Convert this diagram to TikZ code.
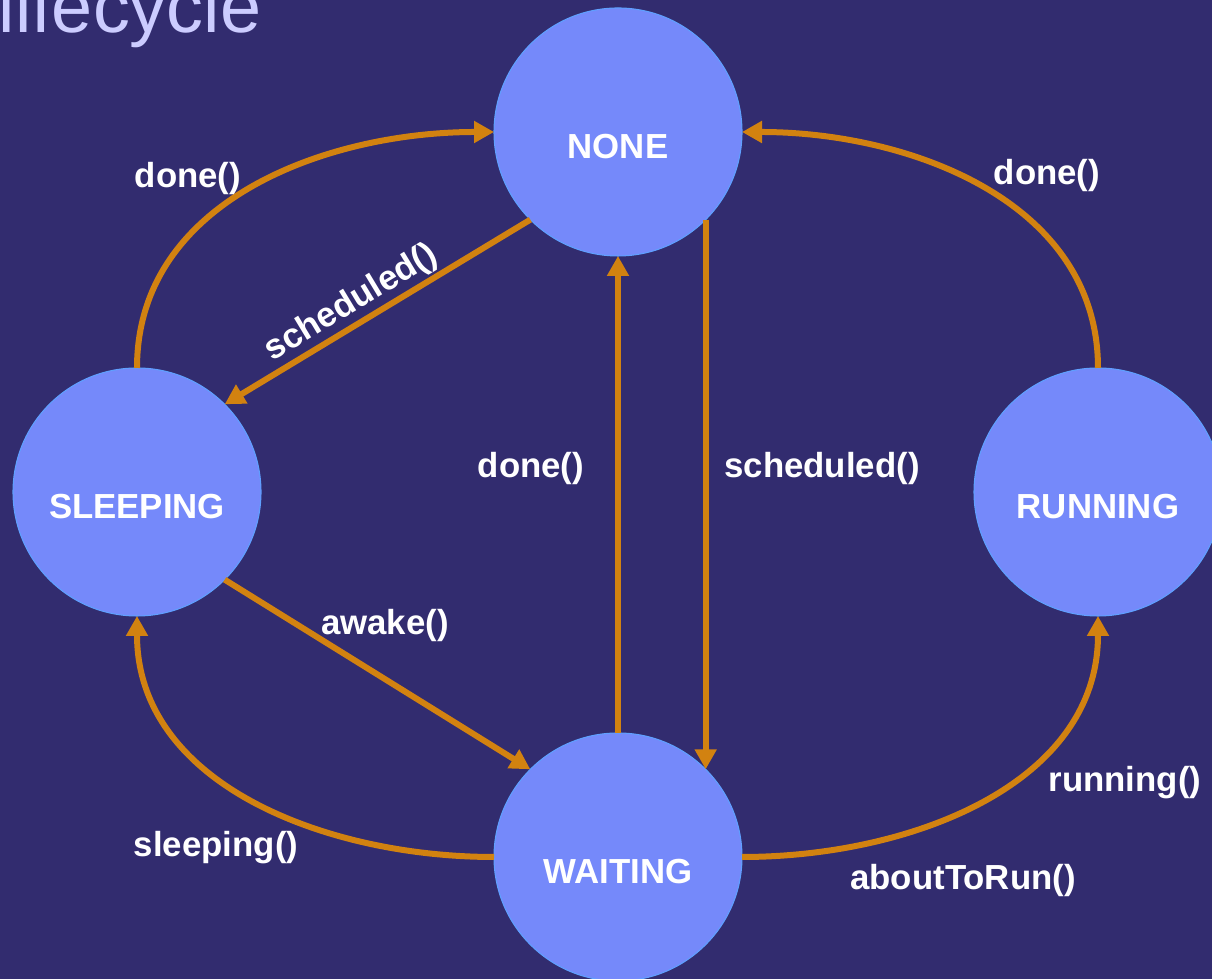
\documentclass[tikz,border=0pt]{standalone}
\usepackage{fontspec}
\setmainfont{Liberation Sans}
\usetikzlibrary{arrows.meta}

\definecolor{coloreSfondo}{RGB}{50,44,111}
\definecolor{coloreStato}{RGB}{117,137,250}
\definecolor{coloreBordo}{RGB}{95,160,255}
\definecolor{coloreFreccia}{RGB}{210,130,16}
\definecolor{coloreTitolo}{RGB}{204,204,255}

\begin{document}
\begin{tikzpicture}[
		stato/.style={circle, fill=coloreStato, draw=coloreBordo, line width=0.3pt,
			minimum size=2.48cm, inner sep=0pt, outer sep=0pt, text=white,
			font=\fontsize{9.9pt}{12pt}\selectfont\bfseries,
			text height=0.53cm, text depth=0pt},
		etich/.style={text=white, font=\fontsize{9.9pt}{12pt}\selectfont\bfseries,
			anchor=base, inner sep=0pt},
		freccia/.style={draw=coloreFreccia, line width=0.06cm,
			-{Triangle[length=0.2cm,width=0.21cm]}}
	]
	\useasboundingbox (0,0) rectangle (12.12,9.79);
	\fill[coloreSfondo] (0,0) rectangle (12.12,9.79);

	% Titolo
	\node[anchor=base west, inner sep=0pt, text=coloreTitolo,
		font=\fontsize{21pt}{24pt}\selectfont] (titolo) at (-0.02,9.46) {lifecycle};

	% Definisci gli stati
	\node[stato] (none) at (6.18,8.47) {NONE};
	\node[stato] (sleeping) at (1.37,4.87) {SLEEPING};
	\node[stato] (running) at (10.98,4.87) {RUNNING};
	\node[stato] (waiting) at (6.18,1.22) {WAITING};

	% Collega gli stati
	\draw[freccia] (sleeping.north) to[out=90,in=180] (none.west);
	\draw[freccia] (running.north) to[out=90,in=0] (none.east);
	\draw[freccia] (none.225) -- node[etich, anchor=south, sloped, pos=0.55, inner sep=0.5pt] (lsched) {scheduled()} (sleeping.45);
	\draw[freccia] (sleeping.-45) -- (waiting.135);
	\draw[freccia] (waiting.north) -- (none.south);
	\draw[freccia] (none.-45) -- (waiting.45);
	\draw[freccia] (waiting.west) to[out=180,in=-90] (sleeping.south);
	\draw[freccia] (waiting.east) to[out=0,in=-90] (running.south);

	% Etichette
	\node[etich] (ldone1) at (1.88,7.91) {done()};
	\node[etich] (ldone2) at (10.47,7.94) {done()};
	\node[etich] (ldone3) at (5.31,5.01) {done()};
	\node[etich] (lsched2) at (8.22,5.01) {scheduled()};
	\node[etich] (lawake) at (3.85,3.44) {awake()};
	\node[etich] (lsleep) at (2.16,1.22) {sleeping()};
	\node[etich] (lrun) at (11.25,1.87) {running()};
	\node[etich] (labout) at (9.63,0.89) {aboutToRun()};
\end{tikzpicture}
\end{document}
